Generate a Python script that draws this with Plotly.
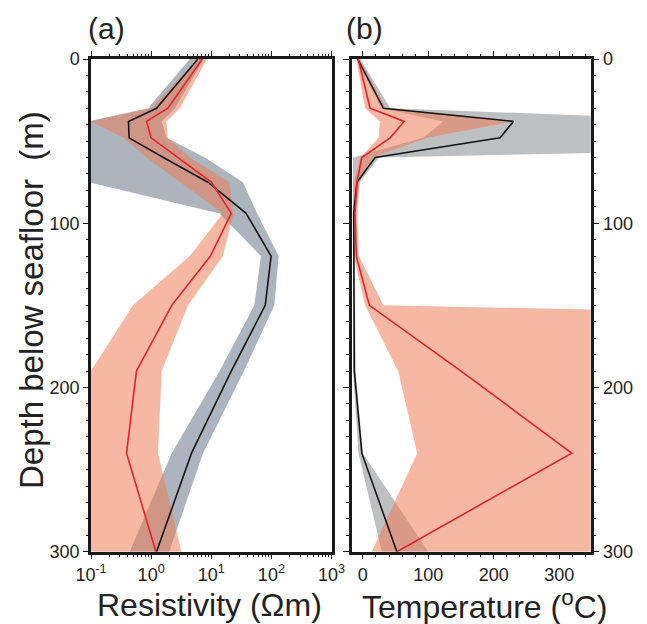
import plotly.graph_objects as go

# ---------------- data ----------------
depth = [0, 30, 38, 48, 60, 75, 94, 120, 150, 190, 240, 300]

# Resistivity (Ohm m) - black model with grey uncertainty band
res_black = [6.0, 1.23, 0.42, 0.43, 1.6, 8.8, 38, 99, 79, 21.5, 4.7, 1.23]
res_black_lo = [4.4, 0.89, 0.09, 0.05, 0.05, 0.09, 13.8, 67, 52, 13.8, 2.2, 0.44]
res_black_hi = [7.5, 2.5, 1.5, 1.8, 7.8, 33.6, 58, 132, 112, 35, 7.3, 2.0]

# Resistivity - red model with salmon band
res_red = [7.1, 1.9, 0.84, 1.0, 2.8, 10.0, 21.5, 9.7, 2.2, 0.57, 0.39, 1.2]
res_red_lo = [6.0, 1.0, 0.1, 0.35, 0.84, 3.0, 15.6, 4.4, 0.5, 0.1, 0.05, 0.05]
res_red_hi = [8.5, 3.0, 1.8, 1.9, 4.4, 20, 23.5, 15.6, 4.1, 1.5, 1.3, 3.2]

# Temperature (deg C)
tmp_black = [-8, 31.5, 230, 209.6, 18.8, -9, -14, -14, -14, -13, -1.5, 52]
tmp_black_lo = [-10, 28, 123, 92, -15, -15, -16, -16, -16, -15, -6.7, 29]
tmp_black_hi = [-4, 42, 585, 1400, 25, -5, -12, -12, -12, -11, 0, 100]

tmp_red = [-7, 11, 63, 41.7, -1.6, -9, -12, -10, 10, 150, 319, 52]
tmp_red_lo = [-10, 3.5, 26, 24, -3.5, -14, -15, -14, 3.5, 54, 83, 13.7]
tmp_red_hi = [-5, 35, 230, 98, 15, -5, -8, -6, 31.5, 5000, 3000, 3000]

res_tickvals = [0.1, 1, 10, 100, 1000]
res_ticktext = ["10<sup>-1</sup>", "10<sup>0</sup>", "10<sup>1</sup>", "10<sup>2</sup>", "10<sup>3</sup>"]
res_minor = [m * 10 ** e for e in (-1, 0, 1, 2) for m in range(2, 10)]
tmp_tickvals = [0, 100, 200, 300]
depth_tickvals = [0, 100, 200, 300]

# ---------------- styles ----------------
GREY_A = "rgb(172,180,189)"
GREY_B = "rgb(190,191,193)"
PINK = "rgba(239,126,88,0.55)"
BLACK = "#151515"
RED = "#e8212b"
FONT = "Liberation Sans, Arial, Helvetica, sans-serif"

OFF = 8  # page body margin
W, H = 647 - OFF, 624 - OFF
def fx(px):
    return (px - OFF) / W
def fy(py):
    return 1 - (py - OFF) / H

fig = go.Figure()

def band(lo, hi, color, xa, ya):
    return go.Scatter(
        x=list(lo) + list(hi)[::-1],
        y=list(depth) + list(depth)[::-1],
        fill="toself", fillcolor=color, mode="lines",
        line=dict(width=0, color=color), xaxis=xa, yaxis=ya,
        hoverinfo="skip", showlegend=False,
    )

def line(vals, color, xa, ya):
    return go.Scatter(x=vals, y=depth, mode="lines",
                      line=dict(color=color, width=1.6),
                      xaxis=xa, yaxis=ya, showlegend=False)

fig.add_trace(band(res_black_lo, res_black_hi, GREY_A, "x", "y"))
fig.add_trace(band(res_red_lo, res_red_hi, PINK, "x", "y"))
fig.add_trace(line(res_black, BLACK, "x", "y"))
fig.add_trace(line(res_red, RED, "x", "y"))

fig.add_trace(band(tmp_black_lo, tmp_black_hi, GREY_B, "x2", "y2"))
fig.add_trace(band(tmp_red_lo, tmp_red_hi, PINK, "x2", "y2"))
fig.add_trace(line(tmp_black, BLACK, "x2", "y2"))
fig.add_trace(line(tmp_red, RED, "x2", "y2"))

tickfont = dict(family=FONT, size=18, color="#222")
y_dom = [fy(551.7), fy(59)]
AX = "#1a1a1a"

fig.update_layout(
    width=W, height=H,
    margin=dict(l=0, r=0, t=0, b=0, pad=0, autoexpand=False),
    paper_bgcolor="white", plot_bgcolor="white",
    showlegend=False,
    xaxis=dict(
        type="log", range=[-1, 3], domain=[fx(91), fx(331.5)],
        anchor="y", showgrid=False, zeroline=False, automargin=False,
        showline=True, linecolor=AX, linewidth=2.5, mirror="ticks",
        ticks="outside", ticklen=5, tickwidth=1.2, tickcolor=AX,
        tickvals=res_tickvals, ticktext=res_ticktext, tickfont=tickfont,
        minor=dict(tickvals=res_minor, ticks="outside", ticklen=2.5,
                   tickwidth=1, tickcolor=AX, showgrid=False),
    ),
    yaxis=dict(
        range=[300, 0], domain=y_dom, anchor="x", automargin=False,
        showgrid=False, zeroline=False,
        showline=True, linecolor=AX, linewidth=2.5, mirror=True,
        ticks="outside", ticklen=5, tickwidth=1.2, tickcolor=AX,
        tickvals=depth_tickvals, tickfont=tickfont,
        minor=dict(dtick=10, tick0=0, ticks="outside", ticklen=2.5,
                   tickwidth=1, tickcolor=AX, showgrid=False),
    ),
    xaxis2=dict(
        range=[-17, 348], domain=[fx(351.7), fx(590.7)],
        anchor="y2", showgrid=False, zeroline=False, automargin=False,
        showline=True, linecolor=AX, linewidth=2.5, mirror="ticks",
        ticks="outside", ticklen=5, tickwidth=1.2, tickcolor=AX,
        tickvals=tmp_tickvals, tickfont=tickfont,
        minor=dict(dtick=20, tick0=0, ticks="outside", ticklen=2.5,
                   tickwidth=1, tickcolor=AX, showgrid=False),
    ),
    yaxis2=dict(
        range=[300, 0], domain=y_dom, anchor="x2", side="right",
        showgrid=False, zeroline=False, automargin=False,
        showline=True, linecolor=AX, linewidth=2.5, mirror="ticks",
        ticks="outside", ticklen=6, tickwidth=1.2, tickcolor=AX,
        tickvals=depth_tickvals, tickfont=tickfont,
        minor=dict(dtick=10, tick0=0, ticks="outside", ticklen=3,
                   tickwidth=1, tickcolor=AX, showgrid=False),
    ),
)

def ann(text, x, y, size, angle=0):
    fig.add_annotation(text=text, x=fx(x), y=fy(y), xref="paper", yref="paper",
                       showarrow=False, textangle=angle,
                       font=dict(family=FONT, size=size, color="#222"),
                       xanchor="center", yanchor="middle")

ann("(a)", 107, 29, 30)
ann("(b)", 364, 29, 30)
ann("Resistivity (Ωm)", 209, 605, 32)
ann("Temperature (<sup>o</sup>C)", 484, 605, 32)
ann("Depth below seafloor\u00a0 (m)", 31, 300, 33, angle=-90)

fig.write_html("out.html")
